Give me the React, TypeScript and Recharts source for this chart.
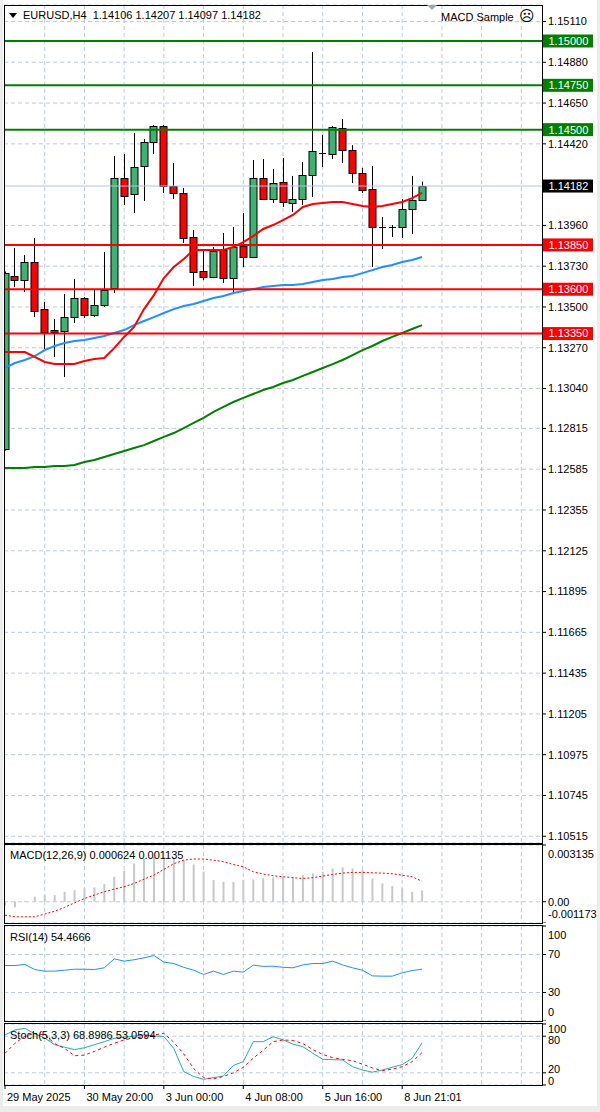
import React from "react";
import { ComposedChart, Bar, Line, XAxis, YAxis, CartesianGrid, ReferenceLine } from "recharts";

// EURUSD H4 candles
const opens = [1.12699, 1.13675, 1.13652, 1.13754, 1.13488, 1.1337, 1.13364, 1.13443, 1.13551, 1.13455, 1.13511, 1.13607, 1.14227, 1.14137, 1.14295, 1.1443, 1.14521, 1.14182, 1.14143, 1.13895, 1.13703, 1.13669, 1.13821, 1.13663, 1.13844, 1.13782, 1.14227, 1.14109, 1.14205, 1.14086, 1.14109, 1.14244, 1.14363, 1.14363, 1.14509, 1.14385, 1.14256, 1.14165, 1.13951, 1.13951, 1.13951, 1.14052, 1.14106];
const highs = [1.137, 1.13833, 1.13793, 1.13889, 1.13528, 1.13432, 1.13573, 1.13658, 1.13556, 1.13596, 1.1381, 1.14351, 1.14363, 1.14481, 1.14447, 1.14526, 1.14526, 1.14312, 1.14171, 1.13934, 1.13816, 1.13838, 1.13917, 1.13951, 1.1403, 1.14329, 1.14334, 1.14278, 1.1434, 1.14239, 1.14318, 1.14938, 1.1447, 1.14521, 1.1456, 1.14413, 1.14284, 1.14295, 1.14007, 1.13962, 1.14109, 1.14239, 1.14207];
const lows = [1.1269, 1.13613, 1.13584, 1.13443, 1.13263, 1.13218, 1.13105, 1.1341, 1.13438, 1.13443, 1.135, 1.13579, 1.14075, 1.1403, 1.14098, 1.14363, 1.14143, 1.14109, 1.13861, 1.13618, 1.13652, 1.13663, 1.13635, 1.13584, 1.13725, 1.13776, 1.14103, 1.14086, 1.14064, 1.14036, 1.14075, 1.1412, 1.14289, 1.14334, 1.14312, 1.14199, 1.14143, 1.13725, 1.13827, 1.13895, 1.13889, 1.13911, 1.14097];
const closes = [1.13691, 1.13652, 1.13754, 1.13477, 1.13359, 1.13359, 1.13443, 1.13551, 1.13455, 1.13511, 1.13596, 1.14227, 1.14126, 1.14289, 1.1443, 1.14521, 1.14182, 1.14143, 1.13889, 1.13697, 1.13669, 1.13816, 1.13663, 1.13838, 1.13782, 1.14227, 1.14109, 1.14199, 1.14092, 1.14109, 1.14244, 1.1438, 1.14366, 1.14515, 1.14385, 1.14256, 1.1416, 1.13951, 1.13948, 1.13948, 1.14052, 1.14106, 1.14182];

// moving averages
const maFast = [1.13246, 1.13246, 1.13246, 1.13218, 1.1319, 1.13178, 1.13178, 1.13178, 1.13195, 1.13206, 1.13212, 1.13268, 1.13331, 1.13387, 1.13488, 1.13567, 1.13663, 1.13725, 1.1377, 1.13821, 1.13821, 1.13821, 1.13821, 1.13838, 1.13866, 1.139, 1.1394, 1.13962, 1.1399, 1.14019, 1.14064, 1.14081, 1.14086, 1.14092, 1.14092, 1.14081, 1.14069, 1.14064, 1.14069, 1.14081, 1.14092, 1.14114, 1.14143];
const maMid = [1.13156, 1.13184, 1.13201, 1.13223, 1.13257, 1.1328, 1.13297, 1.13308, 1.13314, 1.13325, 1.13336, 1.13353, 1.1337, 1.13398, 1.13421, 1.13443, 1.13466, 1.13488, 1.13505, 1.13517, 1.13534, 1.13551, 1.13562, 1.13579, 1.1359, 1.13601, 1.13613, 1.13618, 1.13624, 1.13624, 1.13629, 1.13641, 1.13652, 1.13658, 1.13669, 1.13675, 1.13691, 1.13708, 1.13725, 1.13737, 1.13754, 1.13765, 1.13782];
const maSlow = [1.12592, 1.12592, 1.12592, 1.12597, 1.12597, 1.12603, 1.12603, 1.12609, 1.12626, 1.12637, 1.12654, 1.12671, 1.12688, 1.12705, 1.12721, 1.12744, 1.12767, 1.12789, 1.12817, 1.12846, 1.12874, 1.12908, 1.12936, 1.12964, 1.12987, 1.13009, 1.13032, 1.13049, 1.13071, 1.13088, 1.13111, 1.13133, 1.13156, 1.13178, 1.13201, 1.13229, 1.13257, 1.1328, 1.13308, 1.13331, 1.13353, 1.13376, 1.13398];

// indicators
const macdHist = [-0.0002, -0.00031, 0.000055, 0.00028, 0.00037, 0.00037, 0.00055, 0.00064, 0.00074, 0.00079, 0.00098, 0.00138, 0.00171, 0.00212, 0.00239, 0.00249, 0.00249, 0.00239, 0.0023, 0.00206, 0.00166, 0.0012, 0.0011, 0.0011, 0.0012, 0.00123, 0.00129, 0.00134, 0.00138, 0.00138, 0.00147, 0.00157, 0.00166, 0.00184, 0.0019, 0.00184, 0.00175, 0.00129, 0.00101, 0.00087, 0.00074, 0.00055, 0.000624];
const macdSignal = [-0.00074, -0.00083, -0.00083, -0.00083, -0.00068, -0.00052, -0.00031, -0.00006, 0.00018, 0.00037, 0.00055, 0.0007, 0.00083, 0.00101, 0.00125, 0.00147, 0.00179, 0.0021, 0.0023, 0.00236, 0.00236, 0.0023, 0.00221, 0.00206, 0.00193, 0.00166, 0.00153, 0.00144, 0.00138, 0.00133, 0.00129, 0.00133, 0.00142, 0.00151, 0.00158, 0.00162, 0.00162, 0.0016, 0.00158, 0.00155, 0.00147, 0.00138, 0.001135];
const rsiValues = [58.4, 58.4, 59.5, 54.2, 52.5, 52.5, 53.5, 54.5, 54.5, 54.2, 56, 65.4, 63, 64.5, 66.5, 68.9, 62, 60.5, 56.5, 53.5, 49, 52.5, 49, 52.5, 51.4, 58.8, 57.5, 57.7, 56.5, 56, 59, 60.5, 60.5, 63, 59, 56, 53.5, 47.5, 47.2, 47.2, 50.7, 53.1, 54.4666];
const stochMain = [82, 90.2, 92.9, 84, 77, 66, 62, 58, 61, 66, 71, 76.5, 78.5, 80, 82, 80.5, 79.5, 60, 21.9, 14, 9.3, 12, 14.8, 32, 38.3, 71, 71, 79.2, 74, 67, 62.8, 52, 42.1, 41.5, 41, 30, 24.6, 21, 24.6, 29, 33.5, 43.7, 68.8986];
const stochSignal = [51.9, 68.3, 80, 84.7, 82, 68, 60, 48, 49, 55, 62, 68.3, 74, 77, 79.2, 82, 84.7, 70, 51, 27, 12, 10, 14, 20, 29, 44, 57, 71, 73.8, 73, 68, 58, 50, 44.8, 42, 39.9, 34, 28, 23.5, 26, 30, 38.3, 53.0594];

const priceTicks = [1.1511, 1.1488, 1.1465, 1.1442, 1.1396, 1.1373, 1.135, 1.1327, 1.1304, 1.12815, 1.12585, 1.12355, 1.12125, 1.11895, 1.11665, 1.11435, 1.11205, 1.10975, 1.10745, 1.10515];
const resistanceLevels = [1.15, 1.1475, 1.145];
const supportLevels = [1.1385, 1.136, 1.1335];
const bidPrice = 1.14182;
const timeTickIdx = [0, 8, 16, 24, 32, 40];
const timeTickLabels = ["29 May 2025", "30 May 20:00", "3 Jun 00:00", "4 Jun 08:00", "5 Jun 16:00", "8 Jun 21:01"];
const gridIdx = [4, 8, 12, 16, 20, 24, 28, 32, 36, 40, 44, 48, 52];

const X_DOMAIN: [number, number] = [-0.1, 54.08];
const FONT = "'Liberation Sans', Arial, sans-serif";
const GRID = "#bccbe0";
const UP = "#3cb371";
const DOWN = "#ff0000";
const PLOT_LEFT = 4;

const data = opens.map((o, i) => ({
  i,
  o,
  h: highs[i],
  l: lows[i],
  c: closes[i],
  range: [lows[i], highs[i]],
  fast: maFast[i],
  mid: maMid[i],
  slow: maSlow[i],
  hist: macdHist[i],
  signal: macdSignal[i],
  rsi: rsiValues[i],
  k: stochMain[i],
  d: stochSignal[i],
}));

const vGrid = ({ offset }: any) =>
  gridIdx.map((g) => offset.left + ((g - X_DOMAIN[0]) / (X_DOMAIN[1] - X_DOMAIN[0])) * offset.width);

function Candle(props: any) {
  const { x, y, width, height, payload } = props;
  if (x == null || !payload) return null;
  const cx = Math.round(x + width / 2) + 0.5;
  const top = Math.min(y, y + height);
  const span = Math.abs(height);
  const { o, h, l, c } = payload;
  const py = (v: number) => top + ((h - v) / (h - l)) * span;
  const bTop = Math.round(py(Math.max(o, c))) + 0.5;
  const bBot = Math.round(py(Math.min(o, c))) + 0.5;
  const left = Math.max(cx - 3.5, PLOT_LEFT + 0.5);
  const right = cx + 3.5;
  const doji = Math.abs(o - c) < 0.00004;
  return (
    <g>
      <line x1={cx} x2={cx} y1={top} y2={top + span} stroke="#000" strokeWidth={1} />
      {doji ? (
        <line x1={left} x2={right} y1={bTop} y2={bTop} stroke="#000" strokeWidth={1} />
      ) : (
        <rect x={left} y={bTop} width={right - left} height={Math.max(bBot - bTop, 1)} fill={c > o ? UP : DOWN} stroke="#000" strokeWidth={1} />
      )}
    </g>
  );
}

const levelTag = (p: any, v: number, bg: string) => {
  const vb = p.viewBox || {};
  const x = vb.x + vb.width + 1;
  const y = vb.y;
  return (
    <g>
      <rect x={x} y={y - 6.5} width={50} height={13} fill={bg} />
      <text x={x + 5.5} y={y} dy="0.355em" fill="#fff" fontSize={11} fontFamily={FONT}>
        {v.toFixed(5)}
      </text>
    </g>
  );
};

// axis label with a per-value vertical nudge, so edge labels sit inside the panel
const nudgedTick = (nudge: Record<string, number>, fmt: (v: number) => string) => (props: any) => {
  const { x, y, payload } = props;
  const dy = nudge[String(payload.value)] || 0;
  return (
    <text x={x} y={y + dy} dy="0.355em" textAnchor="start" fill="#000" fontSize={11} fontFamily={FONT}>
      {fmt(payload.value)}
    </text>
  );
};

const TimeTick = (props: any) => {
  const { x, y, payload } = props;
  const k = timeTickIdx.indexOf(payload.value);
  return (
    <text x={x + 2} y={y} dy="0.71em" textAnchor="start" fill="#000" fontSize={11} fontFamily={FONT}>
      {timeTickLabels[k]}
    </text>
  );
};

const label = (left: number, top: number, text: string, extra: any = {}) => (
  <div
    style={{
      position: "absolute",
      left,
      top,
      height: 14,
      lineHeight: "14px",
      fontSize: 11,
      fontFamily: FONT,
      color: "#000",
      whiteSpace: "pre",
      ...extra,
    }}
  >
    {text}
  </div>
);

const box = (left: number, top: number, width: number, height: number) => (
  <div
    style={{
      position: "absolute",
      left,
      top,
      width,
      height,
      border: "1px solid #000",
      boxSizing: "border-box",
      pointerEvents: "none",
    }}
  />
);

export default function App() {
  const axisCommon = {
    orientation: "right" as const,
    width: 58,
    allowDataOverflow: true,
    interval: 0 as const,
    tickSize: 4,
    tickMargin: 2,
    tickLine: { stroke: "#000" },
    axisLine: false,
  };
  return (
    <div style={{ position: "absolute", left: 0, top: 0, width: 600, height: 1112, background: "#fff", overflow: "hidden" }}>
      <div style={{ position: "absolute", left: 0, top: 0, width: 3, height: 1112, background: "#ececec" }} />
      <div style={{ position: "absolute", right: 0, top: 0, width: 3, height: 1112, background: "#ececec" }} />
      <div style={{ position: "absolute", left: 0, top: 1106, width: 600, height: 6, background: "#ececec" }} />

      {/* price panel */}
      <div style={{ position: "absolute", left: 0, top: 0 }}>
        <ComposedChart width={600} height={844} data={data} margin={{ top: 5, right: 0, bottom: 1, left: 4 }}>
          <CartesianGrid stroke={GRID} strokeDasharray="4 3" verticalCoordinatesGenerator={vGrid} />
          <XAxis dataKey="i" type="number" domain={X_DOMAIN} allowDataOverflow hide />
          <YAxis
            {...axisCommon}
            domain={[1.10477, 1.15203]}
            ticks={priceTicks}
            tickFormatter={(v: number) => v.toFixed(5)}
            tick={{ fill: "#000", fontSize: 11, fontFamily: FONT }}
          />
          <ReferenceLine y={bidPrice} stroke="#b4c6dc" strokeWidth={1} label={(p: any) => levelTag(p, bidPrice, "#000")} />
          <Bar dataKey="range" barSize={7} shape={(p: any) => <Candle {...p} />} isAnimationActive={false} />
          <Line dataKey="slow" stroke="#008000" strokeWidth={2} dot={false} isAnimationActive={false} />
          <Line dataKey="mid" stroke="#1e90ff" strokeWidth={2} dot={false} isAnimationActive={false} />
          <Line dataKey="fast" stroke="#ff0000" strokeWidth={2} dot={false} isAnimationActive={false} />
          {resistanceLevels.map((v) => (
            <ReferenceLine key={v} y={v} stroke="#008000" strokeWidth={2} label={(p: any) => levelTag(p, v, "#008000")} />
          ))}
          {supportLevels.map((v) => (
            <ReferenceLine key={v} y={v} stroke="#ff0000" strokeWidth={2} label={(p: any) => levelTag(p, v, "#ff0000")} />
          ))}
        </ComposedChart>
      </div>

      {/* MACD */}
      <div style={{ position: "absolute", left: 0, top: 844 }}>
        <ComposedChart width={600} height={79} data={data} margin={{ top: 1, right: 0, bottom: 0, left: 4 }}>
          <CartesianGrid stroke={GRID} strokeDasharray="4 3" verticalCoordinatesGenerator={vGrid} />
          <XAxis dataKey="i" type="number" domain={X_DOMAIN} allowDataOverflow hide />
          <YAxis
            {...axisCommon}
            domain={[-0.001173, 0.003135]}
            ticks={[-0.001173, 0, 0.003135]}
            tick={nudgedTick({ "0.003135": 9, "-0.001173": -9 }, (v) => (v === 0 ? "0.00" : v.toFixed(6)))}
          />
          <Bar dataKey="hist" barSize={2} fill="#c8c8c8" isAnimationActive={false} />
          <Line dataKey="signal" stroke="#ff0000" strokeWidth={1} strokeDasharray="2 2" dot={false} isAnimationActive={false} />
        </ComposedChart>
      </div>

      {/* RSI */}
      <div style={{ position: "absolute", left: 0, top: 925 }}>
        <ComposedChart width={600} height={96} data={data} margin={{ top: 1, right: 0, bottom: 0, left: 4 }}>
          <CartesianGrid stroke={GRID} strokeDasharray="4 3" verticalCoordinatesGenerator={vGrid} />
          <XAxis dataKey="i" type="number" domain={X_DOMAIN} allowDataOverflow hide />
          <YAxis {...axisCommon} domain={[0, 100]} ticks={[0, 30, 70, 100]} tick={nudgedTick({ "100": 9, "0": -9 }, (v) => String(v))} />
          <Line dataKey="rsi" stroke="#1e90ff" strokeWidth={1} dot={false} isAnimationActive={false} />
        </ComposedChart>
      </div>

      {/* Stochastic + time axis */}
      <div style={{ position: "absolute", left: 0, top: 1023 }}>
        <ComposedChart width={600} height={82} data={data} margin={{ top: 1, right: 0, bottom: 0, left: 4 }}>
          <CartesianGrid stroke={GRID} strokeDasharray="4 3" verticalCoordinatesGenerator={vGrid} />
          <XAxis
            dataKey="i"
            type="number"
            domain={X_DOMAIN}
            allowDataOverflow
            ticks={timeTickIdx}
            interval={0}
            height={20}
            tickSize={4}
            tickMargin={4}
            tickLine={{ stroke: "#000" }}
            axisLine={false}
            tick={TimeTick}
          />
          <YAxis
            {...axisCommon}
            domain={[0, 100]}
            ticks={[0, 20, 80, 100]}
            tick={nudgedTick({ "100": 5, "80": 4, "20": -4, "0": -4 }, (v) => String(v))}
          />
          <Line dataKey="k" stroke="#20b2aa" strokeWidth={1} dot={false} isAnimationActive={false} />
          <Line dataKey="d" stroke="#ff0000" strokeWidth={1} strokeDasharray="3 3" dot={false} isAnimationActive={false} />
        </ComposedChart>
      </div>

      {box(4, 5, 539, 839)}
      {box(4, 844, 539, 80)}
      {box(4, 925, 539, 97)}
      {box(4, 1023, 539, 63)}

      <svg style={{ position: "absolute", left: 0, top: 0 }} width={600} height={30}>
        <polygon points="9,13 17,13 13,18" fill="#000" />
        <polygon points="427,5 437,5 432,10" fill="#9aa8b8" />
      </svg>
      {label(23, 8, "EURUSD,H4  1.14106 1.14207 1.14097 1.14182")}
      {label(441, 10, "MACD Sample")}
      {label(519, 9, "☹", { fontSize: 15, fontFamily: "'DejaVu Sans', sans-serif" })}
      {label(10, 848, "MACD(12,26,9) 0.000624 0.001135")}
      {label(10, 930, "RSI(14) 54.4666")}
      {label(10, 1028, "Stoch(5,3,3) 68.8986 53.0594")}
    </div>
  );
}
